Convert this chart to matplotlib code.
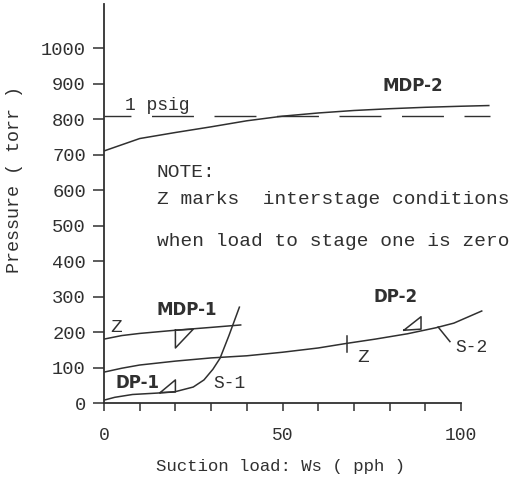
import numpy as np
import matplotlib.pyplot as plt

# curves (x: suction load, pph ; y: pressure, torr)
mdp2_x = [0, 10, 20, 30, 40, 50, 60, 70, 80, 90, 100, 108]
mdp2_y = [710, 745, 762, 778, 795, 808, 817, 824, 829, 833, 836, 838]

mdp1_x = [0, 5, 10, 20, 30, 38.5]
mdp1_y = [180, 190, 196, 205, 213, 220]

dp2_x = [0, 5, 10, 20, 30, 40, 50, 60, 68, 76, 85, 93, 98, 106]
dp2_y = [87, 98, 107, 118, 127, 133, 143, 155, 168, 180, 195, 212, 225, 260]

dp1_x = [0, 3, 8, 15, 20, 25, 28, 30.5, 32.5, 35, 38]
dp1_y = [8, 16, 24, 28, 32, 45, 65, 95, 126, 190, 272]

psig_x = [0, 108]
psig_y = [808, 808]

# small flag / tick marks on the curves
tri_mdp1_x = [20, 20, 25, 20]
tri_mdp1_y = [205, 155, 208, 205]
tri_dp1_x = [15.7, 20, 20, 15.7]
tri_dp1_y = [29, 65, 31, 29]
tri_dp2_x = [84, 88.8, 88.8, 84]
tri_dp2_y = [205, 243, 208, 205]
z_tick_x = [68, 68]
z_tick_y = [145, 188]
s2_lead_x = [93.6, 96.9]
s2_lead_y = [214, 173]

x_ticks = np.arange(0, 101, 10)
x_ticklabels = ['0' if t == 0 else '50' if t == 50 else '100' if t == 100 else '' for t in x_ticks]
y_ticks = np.arange(0, 1001, 100)

ink = '#303030'
mono = 'Liberation Mono'

fig = plt.figure(figsize=(5.32, 4.80), dpi=100, facecolor='white')
ax = fig.add_axes([104 / 532, 77 / 480, 428.4 / 532, 399 / 480])
ax.set_xlim(0, 120)
ax.set_ylim(0, 1124)

lw = 1.1
for xs, ys in [(mdp2_x, mdp2_y), (mdp1_x, mdp1_y), (dp2_x, dp2_y), (dp1_x, dp1_y)]:
    ax.plot(xs, ys, color=ink, lw=lw, solid_capstyle='butt')

ax.plot(psig_x, psig_y, color=ink, lw=1.0, linestyle=(10.8, (30.2, 14.8)))

for xs, ys in [(tri_mdp1_x, tri_mdp1_y), (tri_dp1_x, tri_dp1_y), (tri_dp2_x, tri_dp2_y),
               (z_tick_x, z_tick_y), (s2_lead_x, s2_lead_y)]:
    ax.plot(xs, ys, color=ink, lw=lw)

# labels
ax.text(5.9, 839, '1 psig', family=mono, fontsize=13, color=ink, va='center')
ax.text(77.9, 893, 'MDP-2', fontsize=12, fontweight='bold', color=ink, va='center')
ax.text(14.8, 648, 'NOTE:', family=mono, fontsize=14, color=ink, va='center')
ax.text(14.8, 572, 'Z marks  interstage conditions', family=mono, fontsize=14,
        color=ink, va='center')
ax.text(14.8, 456, 'when load to stage one is zero', family=mono, fontsize=14,
        color=ink, va='center')
ax.text(14.6, 262, 'MDP-1', fontsize=12, fontweight='bold', color=ink, va='center')
ax.text(1.7, 214, 'Z', family=mono, fontsize=14, color=ink, va='center')
ax.text(3.1, 57, 'DP-1', fontsize=12, fontweight='bold', color=ink, va='center')
ax.text(30.5, 56, 'S-1', family=mono, fontsize=13, color=ink, va='center')
ax.text(75.4, 298, 'DP-2', fontsize=12, fontweight='bold', color=ink, va='center')
ax.text(70.9, 127, 'Z', family=mono, fontsize=14, color=ink, va='center')
ax.text(98.3, 155, 'S-2', family=mono, fontsize=13, color=ink, va='center')

# axes styling
for side in ['top', 'right']:
    ax.spines[side].set_visible(False)
ax.spines['left'].set_linewidth(1.3)
ax.spines['bottom'].set_linewidth(1.3)
ax.spines['left'].set_color(ink)
ax.spines['bottom'].set_color(ink)
ax.spines['bottom'].set_bounds(0, 100)

ax.set_xticks(x_ticks)
ax.set_xticklabels(x_ticklabels, family=mono, fontsize=13, color=ink)
ax.set_yticks(y_ticks)
ax.set_yticklabels([str(v) for v in y_ticks], family=mono, fontsize=13.5, color=ink)
ax.tick_params(axis='x', direction='out', length=6, width=1.1, pad=11, colors=ink)
ax.tick_params(axis='y', direction='out', length=8, width=1.1, pad=5, colors=ink)

ax.set_xlabel('Suction load: Ws ( pph )', family=mono, fontsize=12.5, color=ink, va='center')
ax.xaxis.set_label_coords(0.413, -0.160)
ax.set_ylabel('Pressure ( torr )', family=mono, fontsize=13.2, color=ink, va='center')
ax.yaxis.set_label_coords(-0.210, 0.561)

fig.savefig('out.png', dpi=100, facecolor='white')
